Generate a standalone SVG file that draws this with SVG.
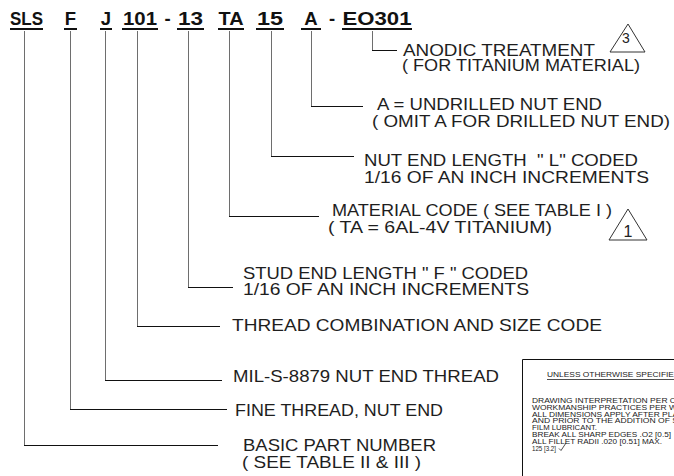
<svg xmlns="http://www.w3.org/2000/svg" width="674" height="476" viewBox="0 0 674 476">
<defs>
<style>
.hd{font-family:"Liberation Sans",Arial,sans-serif;font-weight:bold;font-size:18.5px;fill:#111;text-anchor:middle}
.ul{fill:#111}
.lb{font-family:"Liberation Sans",Arial,sans-serif;font-size:17px;fill:#1e1e1e}
.v{stroke:#6e6e6e;stroke-width:1;fill:none}
.h{stroke:#111;stroke-width:1;fill:none}
.tri{fill:none;stroke:#333;stroke-width:1}
.tn{font-family:"Liberation Sans",Arial,sans-serif;font-size:14px;fill:#222;text-anchor:middle}
.nt{font-family:"Liberation Sans",Arial,sans-serif;font-size:8px;fill:#222}
</style>
</defs>
<rect width="674" height="476" fill="#fff"/>

<g id="part-number">
  <text class="hd" x="26.5" y="25" textLength="33" lengthAdjust="spacingAndGlyphs">SLS</text>
  <rect class="ul" x="10" y="28" width="33" height="2"/>
  <text class="hd" x="70.5" y="25">F</text>
  <rect class="ul" x="64" y="28" width="13" height="2"/>
  <text class="hd" x="106" y="25">J</text>
  <rect class="ul" x="100" y="28" width="12" height="2"/>
  <text class="hd" x="140" y="25" textLength="34" lengthAdjust="spacingAndGlyphs">101</text>
  <rect class="ul" x="122" y="28" width="36" height="2"/>
  <text class="hd" x="167.5" y="25">-</text>
  <text class="hd" x="190.5" y="25" textLength="25" lengthAdjust="spacingAndGlyphs">13</text>
  <rect class="ul" x="177" y="28" width="27" height="2"/>
  <text class="hd" x="231" y="25" textLength="25" lengthAdjust="spacingAndGlyphs">TA</text>
  <rect class="ul" x="218" y="28" width="26" height="2"/>
  <text class="hd" x="270" y="25" textLength="26" lengthAdjust="spacingAndGlyphs">15</text>
  <rect class="ul" x="256" y="28" width="28" height="2"/>
  <text class="hd" x="311" y="25">A</text>
  <rect class="ul" x="301" y="28" width="20" height="2"/>
  <text class="hd" x="332" y="25">-</text>
  <text class="hd" x="377" y="25" textLength="69" lengthAdjust="spacingAndGlyphs">EO301</text>
  <rect class="ul" x="342" y="28" width="70" height="2"/>
</g>

<g id="connectors">
  <path class="v" d="M372.5 31V50"/><path class="h" d="M372 50.5H397"/>
  <path class="v" d="M311.5 31V106"/><path class="h" d="M311 106.5H363"/>
  <path class="v" d="M271.5 31V156"/><path class="h" d="M271 156.5H354"/>
  <path class="v" d="M229.5 31V216"/><path class="h" d="M229 216.5H319"/>
  <path class="v" d="M188.5 31V287"/><path class="h" d="M188 287.5H233"/>
  <path class="v" d="M137.5 31V326"/><path class="h" d="M137 326.5H220"/>
  <path class="v" d="M105.5 31V380"/><path class="h" d="M105 380.5H222"/>
  <path class="v" d="M70.5 31V409"/><path class="h" d="M70 409.5H227"/>
  <path class="v" d="M24.5 31V445"/><path class="h" d="M24 445.5H218"/>
</g>

<g id="anodic-treatment">
  <text class="lb" x="403" y="56" textLength="192" lengthAdjust="spacingAndGlyphs">ANODIC TREATMENT</text>
  <text class="lb" x="402" y="71" textLength="238" lengthAdjust="spacingAndGlyphs">( FOR TITANIUM MATERIAL)</text>
  <path class="tri" d="M628 24L645 52H610Z"/>
  <text class="tn" x="626" y="43">3</text>
</g>

<g id="undrilled-nut-end">
  <text class="lb" x="377" y="110" textLength="225" lengthAdjust="spacingAndGlyphs">A = UNDRILLED NUT END</text>
  <text class="lb" x="372" y="127" textLength="298" lengthAdjust="spacingAndGlyphs">( OMIT A FOR DRILLED NUT END)</text>
</g>

<g id="nut-end-length">
  <text class="lb" x="364" y="166" textLength="274" lengthAdjust="spacingAndGlyphs" xml:space="preserve">NUT END LENGTH  " L" CODED</text>
  <text class="lb" x="364" y="183" textLength="285" lengthAdjust="spacingAndGlyphs">1/16 OF AN INCH INCREMENTS</text>
</g>

<g id="material-code">
  <text class="lb" x="332" y="216" textLength="280" lengthAdjust="spacingAndGlyphs">MATERIAL CODE ( SEE TABLE I )</text>
  <text class="lb" x="328" y="233" textLength="224" lengthAdjust="spacingAndGlyphs">( TA = 6AL-4V TITANIUM)</text>
  <path class="tri" d="M628 209L647 240H609Z"/>
  <text class="tn" x="628" y="237" style="font-size:16px">1</text>
</g>

<g id="stud-end-length">
  <text class="lb" x="243" y="279" textLength="285" lengthAdjust="spacingAndGlyphs">STUD END LENGTH " F " CODED</text>
  <text class="lb" x="243" y="295" textLength="286" lengthAdjust="spacingAndGlyphs">1/16 OF AN INCH INCREMENTS</text>
</g>

<g id="thread-combination">
  <text class="lb" x="232" y="331" textLength="370" lengthAdjust="spacingAndGlyphs">THREAD COMBINATION AND SIZE CODE</text>
</g>

<g id="nut-end-thread">
  <text class="lb" x="233" y="382" textLength="266" lengthAdjust="spacingAndGlyphs">MIL-S-8879 NUT END THREAD</text>
</g>

<g id="fine-thread">
  <text class="lb" x="235" y="416" textLength="208" lengthAdjust="spacingAndGlyphs">FINE THREAD, NUT END</text>
</g>

<g id="basic-part-number">
  <text class="lb" x="243" y="451" textLength="193" lengthAdjust="spacingAndGlyphs">BASIC PART NUMBER</text>
  <text class="lb" x="242" y="468" textLength="179" lengthAdjust="spacingAndGlyphs">( SEE TABLE II &amp; III )</text>
</g>

<g id="notes-box">
  <path d="M522.5 476V359.5H674" fill="none" stroke="#111" stroke-width="1"/>
  <text class="nt" x="547" y="377" textLength="133" lengthAdjust="spacingAndGlyphs">UNLESS OTHERWISE SPECIFIED</text>
  <path d="M547 379.5H674" stroke="#222" stroke-width="0.8"/>
  <text class="nt" x="532" y="403"><tspan x="532" y="403" textLength="144" lengthAdjust="spacingAndGlyphs">DRAWING INTERPRETATION PER C</tspan><tspan x="532" y="409.8" textLength="145" lengthAdjust="spacingAndGlyphs">WORKMANSHIP PRACTICES PER W</tspan><tspan x="532" y="416.6" textLength="146" lengthAdjust="spacingAndGlyphs">ALL DIMENSIONS APPLY AFTER PLA</tspan><tspan x="532" y="423.4" textLength="146" lengthAdjust="spacingAndGlyphs">AND PRIOR TO THE ADDITION OF S</tspan><tspan x="532" y="430.2" textLength="65" lengthAdjust="spacingAndGlyphs">FILM LUBRICANT.</tspan><tspan x="532" y="437" textLength="139" lengthAdjust="spacingAndGlyphs">BREAK ALL SHARP EDGES .O2 [0.5]</tspan><tspan x="532" y="443.8" textLength="130" lengthAdjust="spacingAndGlyphs">ALL FILLET RADII .020 [0.51] MAX.</tspan><tspan x="532" y="450.6" textLength="24" lengthAdjust="spacingAndGlyphs">125 [3.2]</tspan></text>
  <path d="M559 448.5L561 450.5L566 443" fill="none" stroke="#222" stroke-width="0.8"/>
</g>
</svg>
